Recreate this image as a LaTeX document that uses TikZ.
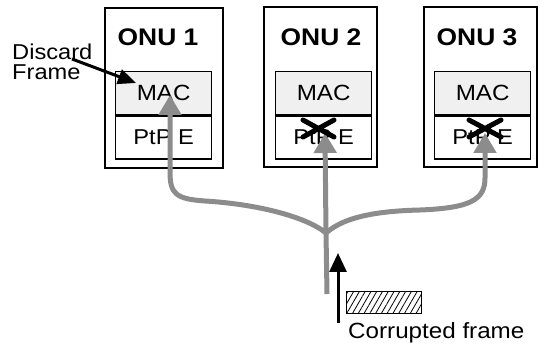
\documentclass[tikz,border=0pt]{standalone}
\usepackage{fontspec}
\setmainfont{Liberation Sans}
\newfontfamily\lab[FakeStretch=1.1]{Liberation Sans}
\usetikzlibrary{arrows.meta,patterns.meta}

\tikzset{
  onubox/.style={draw, line width=1.6pt, minimum height=160pt, inner sep=0pt, anchor=north west},
  macbox/.style={draw, line width=1.3pt, fill=black!6, minimum width=96pt, minimum height=43pt,
                 inner sep=0pt, anchor=north west, font=\lab\fontsize{22}{24}\selectfont},
  phybox/.style={draw, line width=1.3pt, fill=white, minimum width=96pt, minimum height=43pt,
                 inner sep=0pt, anchor=north, font=\lab\fontsize{21.5}{24}\selectfont},
  onutitle/.style={inner sep=0pt, font=\lab\bfseries\fontsize{24}{26}\selectfont},
  fibre/.style={line width=5pt, draw=black!45},
  fibrearrow/.style={fibre, -{Triangle[length=20pt,width=22pt,fill=black!45]}},
  blackarrow/.style={line width=3pt, -{Triangle[length=19pt,width=17pt]}},
  cross/.style={line width=5pt, line cap=round},
  plain/.style={inner sep=0pt, font=\lab\fontsize{21.5}{20}\selectfont}
}

\begin{document}
\begin{tikzpicture}[x=1pt, y=-1pt]
\useasboundingbox (0,0) rectangle (546,344);

% ONU enclosures
\node[onubox, minimum width=118pt] (onu1) at (104,7) {};
\node[onubox, minimum width=113pt] (onu2) at (263,6) {};
\node[onubox, minimum width=113pt] (onu3) at (423,6) {};

\node[onutitle] (t1) at (158,37) {ONU 1};
\node[onutitle] (t2) at (321,37) {ONU 2};
\node[onutitle] (t3) at (477,37) {ONU 3};

% MAC and PtP E layers
\node[macbox] (mac1) at (115,71) {MAC};
\node[macbox] (mac2) at (275,71) {MAC};
\node[macbox] (mac3) at (434,71) {MAC};
\node[phybox] (phy1) at (mac1.south) {PtP E};
\node[phybox] (phy2) at (mac2.south) {PtP E};
\node[phybox] (phy3) at (mac3.south) {PtP E};

% fibre tree
\coordinate (trunk) at (327,294);
\coordinate (split) at (326,233);
\coordinate (tip1) at (170,95);
\coordinate (tip2) at (325,133);
\coordinate (tip3) at (485,133);

\draw[fibre] (trunk) -- (split);
\draw[fibrearrow] (split) .. controls (305,216) and (255,204) .. (205,201)
  .. controls (176,199) and (170,194) .. (170,172) -- (tip1);
\draw[fibrearrow] (split) -- (tip2);
\draw[fibrearrow] (split) .. controls (345,216) and (380,211) .. (420,210)
  .. controls (470,208) and (485,200) .. (485,178) -- (tip3);

% frames rejected at the PtP E layer
\draw[cross] (303,120) -- (334,137) (303,137) -- (334,120);
\draw[cross] (469,120) -- (501,137) (469,137) -- (501,120);

% discard label
\node[plain, align=left, anchor=north west] (discard) at (12,44) {Discard\\Frame};
\coordinate (dstart) at (72,59);
\draw[blackarrow, -{Triangle[length=18pt,width=15pt]}] (dstart) -- (136,83);

% corrupted frame
\node[draw, line width=1.6pt, minimum width=75pt, minimum height=22pt, anchor=north west,
      pattern={Lines[angle=60,distance=5pt,line width=0.8pt]}] (frame) at (346,291) {};
\node[plain, font=\lab\fontsize{22}{24}\selectfont, anchor=base west] (clabel) at (348,339) {Corrupted frame};
\coordinate (cstart) at (338,323);
\coordinate (ctip) at (338,253);
\draw[blackarrow] (cstart) -- (ctip);

\end{tikzpicture}
\end{document}
